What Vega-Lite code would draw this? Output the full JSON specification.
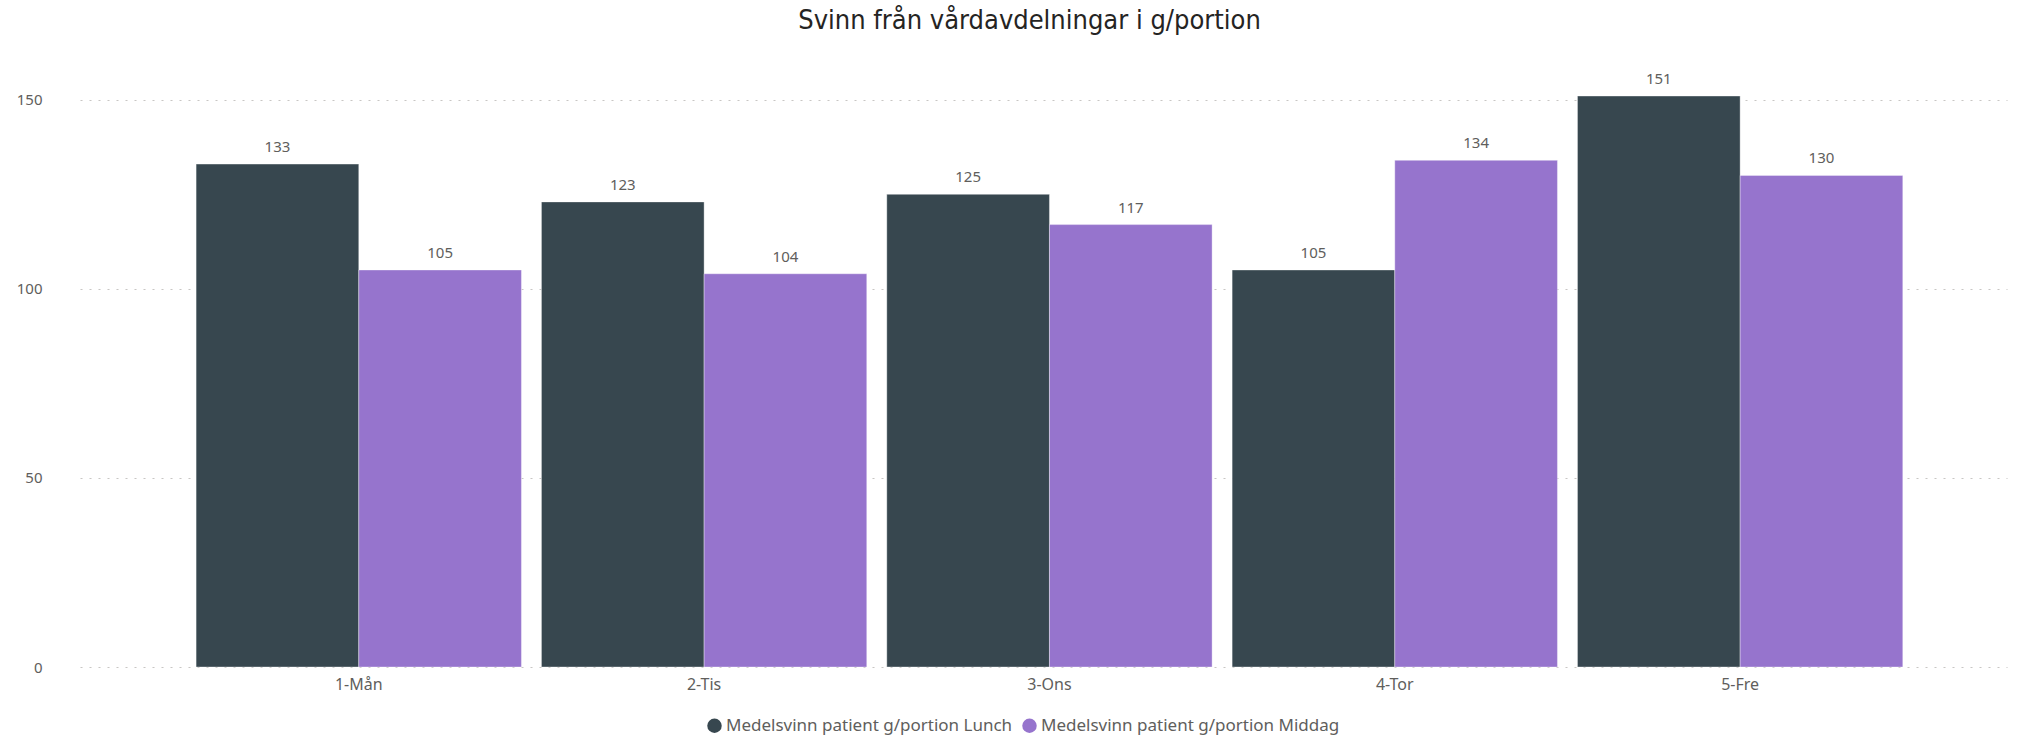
{
  "$schema": "https://vega.github.io/schema/vega-lite/v6.json",
  "autosize": "none",
  "width": 1927,
  "height": 605,
  "padding": {"left": 80, "top": 62, "right": 17, "bottom": 77},
  "background": "white",
  "title": {
    "text": "Svinn från vårdavdelningar i g/portion",
    "font": "DejaVu Sans Condensed",
    "fontSize": 27,
    "fontWeight": "normal",
    "color": "#252423",
    "anchor": "middle",
    "offset": 27,
    "dx": -14
  },
  "data": {
    "values": [
      {"dag": "1-Mån", "serie": "Medelsvinn patient g/portion Lunch", "varde": 133},
      {"dag": "1-Mån", "serie": "Medelsvinn patient g/portion Middag", "varde": 105},
      {"dag": "2-Tis", "serie": "Medelsvinn patient g/portion Lunch", "varde": 123},
      {"dag": "2-Tis", "serie": "Medelsvinn patient g/portion Middag", "varde": 104},
      {"dag": "3-Ons", "serie": "Medelsvinn patient g/portion Lunch", "varde": 125},
      {"dag": "3-Ons", "serie": "Medelsvinn patient g/portion Middag", "varde": 117},
      {"dag": "4-Tor", "serie": "Medelsvinn patient g/portion Lunch", "varde": 105},
      {"dag": "4-Tor", "serie": "Medelsvinn patient g/portion Middag", "varde": 134},
      {"dag": "5-Fre", "serie": "Medelsvinn patient g/portion Lunch", "varde": 151},
      {"dag": "5-Fre", "serie": "Medelsvinn patient g/portion Middag", "varde": 130}
    ]
  },
  "encoding": {
    "x": {
      "field": "dag",
      "type": "nominal",
      "sort": ["1-Mån", "2-Tis", "3-Ons", "4-Tor", "5-Fre"],
      "scale": {"paddingInner": 0.058, "paddingOuter": 0.319, "align": 0.527},
      "axis": {
        "title": null,
        "labelAngle": 0,
        "labelFont": "Noto Sans",
        "labelFontSize": 16,
        "labelColor": "#605E5C",
        "labelPadding": 9,
        "ticks": false,
        "domain": false,
        "grid": false
      }
    },
    "xOffset": {
      "field": "serie",
      "type": "nominal",
      "scale": {"paddingInner": 0, "paddingOuter": 0}
    },
    "y": {
      "field": "varde",
      "type": "quantitative",
      "scale": {"domain": [0, 160], "nice": false},
      "axis": {
        "title": null,
        "values": [0, 50, 100, 150],
        "labelFont": "Noto Sans",
        "labelFontSize": 15,
        "labelColor": "#605E5C",
        "labelPadding": 38,
        "ticks": false,
        "domain": false,
        "grid": true,
        "gridColor": "#C8C6C4",
        "gridDash": [2, 7],
        "gridWidth": 1.2
      }
    }
  },
  "layer": [
    {
      "mark": {"type": "bar", "stroke": "#ffffff", "strokeWidth": 0.6, "strokeOpacity": 0.6},
      "encoding": {
        "color": {
          "field": "serie",
          "type": "nominal",
          "scale": {
            "domain": ["Medelsvinn patient g/portion Lunch", "Medelsvinn patient g/portion Middag"],
            "range": ["#37474F", "#9674CD"]
          },
          "legend": {
            "title": null,
            "orient": "none",
            "direction": "horizontal",
            "legendX": 626,
            "legendY": 655,
            "symbolType": "circle",
            "symbolSize": 210,
            "symbolOpacity": 1,
            "symbolStrokeWidth": 0,
            "labelFont": "Noto Sans",
            "labelFontSize": 17,
            "labelColor": "#605E5C",
            "labelOffset": 3,
            "columnPadding": 8,
            "labelLimit": 400
          }
        }
      }
    },
    {
      "mark": {
        "type": "text",
        "baseline": "bottom",
        "dy": -9,
        "font": "Noto Sans",
        "fontSize": 15,
        "color": "#605E5C"
      },
      "encoding": {
        "text": {"field": "varde", "type": "quantitative"}
      }
    }
  ],
  "config": {
    "view": {"stroke": null}
  }
}
